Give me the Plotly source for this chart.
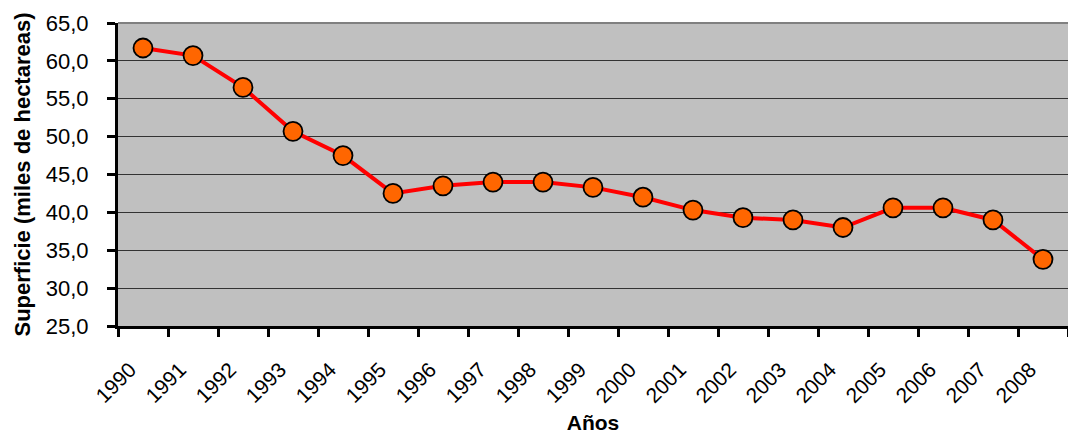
import plotly.graph_objects as go

years = [str(y) for y in range(1990, 2009)]
superficie = [61.7, 60.7, 56.5, 50.7, 47.5, 42.5, 43.5, 44.0, 44.0, 43.3,
              42.0, 40.3, 39.3, 39.0, 38.0, 40.6, 40.6, 39.0, 33.8]
y_ticks = [25, 30, 35, 40, 45, 50, 55, 60, 65]
y_tick_text = ["25,0", "30,0", "35,0", "40,0", "45,0", "50,0", "55,0", "60,0", "65,0"]

FONT = "Liberation Sans, Arial, sans-serif"

fig = go.Figure()
fig.add_trace(go.Scatter(
    x=years,
    y=superficie,
    mode="lines+markers",
    line=dict(color="#FF0000", width=4),
    marker=dict(size=19, color="#FF6600", line=dict(color="#000000", width=1.8)),
    showlegend=False,
    hoverinfo="x+y",
))

fig.update_layout(
    width=1068,
    height=435,
    margin=dict(l=118, r=0, t=23, b=109),
    paper_bgcolor="#FFFFFF",
    plot_bgcolor="#C0C0C0",
    font=dict(family=FONT, color="#000000", size=22),
    xaxis=dict(
        type="category",
        range=[-0.5, 18.5],
        tickson="boundaries",
        ticks="outside",
        ticklen=8,
        tickwidth=3,
        tickcolor="#000000",
        tickangle=-45,
        ticklabelstandoff=20,
        ticklabelshift=-13,
        tickfont=dict(family=FONT, size=21),
        showline=True,
        linecolor="#000000",
        linewidth=3,
        showgrid=False,
        zeroline=False,
        title=dict(text="<b>Años</b>", font=dict(family=FONT, size=21), standoff=10),
    ),
    yaxis=dict(
        range=[25, 65],
        tickmode="array",
        tickvals=y_ticks,
        ticktext=y_tick_text,
        ticks="outside",
        ticklen=8,
        tickwidth=3,
        tickcolor="#000000",
        ticklabelstandoff=14,
        tickfont=dict(family=FONT, size=22),
        showline=True,
        linecolor="#000000",
        linewidth=3,
        showgrid=True,
        gridcolor="#333333",
        gridwidth=1,
        zeroline=False,
        title=dict(text="<b>Superficie (miles de hectareas)</b>",
                   font=dict(family=FONT, size=22), standoff=10),
    ),
    shapes=[dict(type="line", xref="paper", yref="paper", x0=0, x1=1, y0=1, y1=1,
                 line=dict(color="#808080", width=2))],
)

fig.write_html("out.html")
